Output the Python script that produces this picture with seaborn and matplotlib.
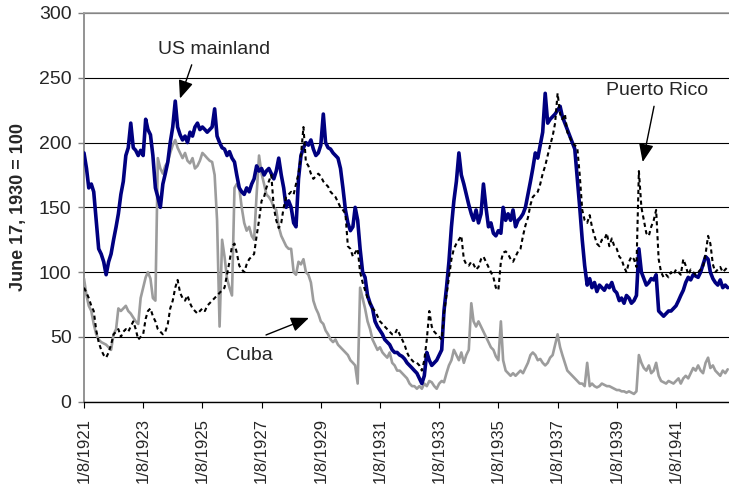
import matplotlib
matplotlib.use("Agg")
import matplotlib.pyplot as plt
import matplotlib.dates as mdates
from matplotlib.patches import ArrowStyle
import seaborn as sns
import pandas as pd

# ---------------- data (monthly readings from 1/8/1921) ----------------
start_date = "1921-01-08"
tick_labels = ["1/8/1921", "1/8/1923", "1/8/1925", "1/8/1927", "1/8/1929", "1/8/1931",
               "1/8/1933", "1/8/1935", "1/8/1937", "1/8/1939", "1/8/1941"]

us_mainland = [
    192, 180, 165, 168, 162, 140, 118, 114, 108, 98, 108, 114, 125, 135, 145, 160, 170, 190, 196, 215,
    196, 194, 190, 194, 190, 218, 210, 206, 190, 165, 158, 150, 168, 176, 185, 200, 212, 232, 212, 206,
    202, 205, 200, 208,
    205, 212, 215, 210, 212, 210, 208, 210, 212, 226, 205, 200, 196, 195, 190, 193, 188, 185, 175, 165,
    162, 160, 165, 162, 168, 172, 182, 178, 180, 175, 178, 180, 176, 172, 178, 188, 175, 165, 150, 155,
    150, 138, 135, 172, 190, 196, 200, 198, 202, 195, 190, 192, 198, 222, 200, 196, 195, 192, 190, 188,
    180, 165, 148, 138, 132, 135, 150, 140, 118, 100, 96, 82, 76, 72, 62, 58, 55, 52, 48, 46, 44, 40, 38,
    38, 36, 35, 33, 30, 28, 26, 24, 22, 18, 14, 20, 38, 32, 28, 30, 32, 36, 40, 70,
    88, 108, 135, 155, 170, 192, 175, 168, 160, 152, 145, 140, 148, 138, 145, 168, 150, 135, 138, 130,
    128, 132, 130, 150,
    140, 145, 140, 148, 135, 140, 142, 145, 150, 160, 170, 180, 192, 188, 198, 208, 238, 215, 218, 220,
    222, 225, 228, 220, 215, 210, 205, 200, 195, 172, 150, 125, 105, 90, 95, 88, 92, 85, 90, 88, 86,
    90, 88, 92, 86, 84, 78, 80, 76, 82, 80, 76, 78, 82, 118, 100, 95, 90, 92, 95, 94,
    98, 70, 68, 66, 68, 70, 70, 72, 74, 78, 82, 86, 92, 96, 94, 98, 97, 96, 100, 106,
    112, 110, 100, 95, 92, 90, 94, 88, 90, 88,
]

cuba = [
    95, 82, 74, 70, 60, 52, 48, 46, 45, 44, 42, 40, 52, 56, 72, 70, 72, 74, 70, 68,
    65, 62, 60, 80, 88, 96, 100, 95, 80, 78, 188, 180, 176, 182, 185, 192, 198, 202, 196, 192,
    188, 192, 186, 184,
    188, 180, 182, 186, 192, 190, 188, 186, 185, 175, 140, 58, 125, 112, 95, 88, 82, 165, 168, 165,
    150, 138, 132, 135, 128, 125, 160, 190, 176, 168, 160, 158, 155, 150, 148, 135, 128, 124, 120, 118,
    118, 100, 98, 108, 106, 110, 100, 98, 92, 78, 72, 68, 62, 60, 55, 52, 48, 46, 48, 44,
    42, 40, 38, 36, 32, 30, 28, 14, 88, 80, 72, 62, 56, 48, 44, 40, 42, 38, 36, 34, 38, 30, 28,
    24, 24, 22, 20, 18, 14, 12, 12, 10, 12, 10, 14, 12, 16, 15, 12, 10, 14, 16, 15,
    22, 28, 32, 40, 36, 32, 38, 30, 36, 40, 76, 62, 58, 62, 58, 54, 50, 46, 42, 40,
    35, 32, 62, 32,
    24, 22, 20, 22, 20, 22, 24, 22, 26, 30, 36, 38, 36, 32, 33, 30, 28, 30, 34, 36,
    44, 52, 42, 36, 30, 24, 22, 20, 18, 16, 14, 14, 12, 30, 12, 14, 12, 11, 12, 14, 13,
    12, 12, 11, 10, 9, 9, 8, 8, 7, 8, 7, 6, 8, 36, 30, 26, 24, 28, 22, 24,
    30, 20, 16, 15, 14, 16, 15, 14, 16, 18, 14, 18, 20, 18, 22, 26, 24, 28, 24, 22,
    30, 34, 26, 28, 24, 22, 20, 24, 22, 25,
]

puerto_rico = [
    88, 84, 80, 74, 70, 55, 46, 40, 36, 34, 38, 44, 52, 54, 56, 50, 54, 56, 54, 58,
    62, 56, 48, 50, 52, 64, 70, 72, 66, 62, 56, 54, 52, 54, 60, 72, 78, 88, 94, 84,
    80, 78, 82, 76,
    72, 70, 68, 70, 72, 70, 74, 76, 78, 80, 82, 84, 86, 88, 98, 108, 120, 122, 115, 105,
    102, 100, 106, 110, 112, 114, 128, 140, 155, 158, 165, 170, 175, 150, 140, 134, 138, 150, 158, 160,
    162, 160, 168, 176, 190, 212, 185, 182, 176, 172, 174, 176, 174, 170, 168, 166, 162, 160, 158, 154,
    150, 148, 145, 120, 118, 112, 115, 118, 100, 92, 86, 80, 76, 72, 70, 66, 62, 60, 58, 56, 54, 52, 52,
    56, 52, 48, 44, 38, 34, 32, 30, 30, 28, 24, 32, 48, 70, 58, 54, 52, 50, 48, 68,
    82, 96, 110, 118, 122, 125, 128, 110, 106, 105, 108, 106, 102, 104, 110, 112, 108, 104, 100, 96,
    88, 86, 108, 115,
    116, 114, 110, 108, 112, 116, 118, 128, 136, 142, 152, 158, 160, 162, 168, 176, 182, 190, 198, 205,
    215, 238, 222, 218, 222, 208, 204, 200, 198, 196, 175, 148, 140, 138, 144, 135, 128, 122, 120, 125,
    125, 130, 120,
    126, 120, 118, 112, 110, 104, 100, 108, 112, 110, 104, 178, 150, 140, 130, 128, 135, 140, 148, 110,
    100, 96, 98, 96, 100, 98, 102, 100, 98, 110, 105, 98, 102, 100, 98, 100, 102, 104, 114, 128,
    122, 106, 100, 102, 104, 100, 102, 104,
]

# ---------------- frame ----------------
dates = pd.date_range(start_date, periods=len(us_mainland), freq=pd.DateOffset(months=1))
df = pd.DataFrame({"date": dates, "US mainland": us_mainland,
                   "Cuba": cuba, "Puerto Rico": puerto_rico})

sns.set_style("white")
plt.rcParams["font.family"] = ["Liberation Sans", "DejaVu Sans"]

W, H = 729, 490
fig = plt.figure(figsize=(W / 100, H / 100), dpi=100)
left_px, right_px, top_px, bottom_px = 84, 729, 13, 401.7
ax = fig.add_axes([left_px / W, 1 - bottom_px / H, (right_px - left_px) / W, (bottom_px - top_px) / H])

sns.lineplot(data=df, x="date", y="Cuba", color="#9c9c9c", lw=1.9, ax=ax, zorder=3)
sns.lineplot(data=df, x="date", y="US mainland", color="#000080", lw=2.6, ax=ax, zorder=4)
sns.lineplot(data=df, x="date", y="Puerto Rico", color="black", lw=1.5, ax=ax, zorder=5,
             linestyle=(0, (2, 1.6)))

t0 = pd.Timestamp(start_date)
ax.set_xlim(mdates.date2num(t0.to_pydatetime()),
            mdates.date2num((t0 + pd.Timedelta(days=7959)).to_pydatetime()))
ax.set_ylim(0, 300)
ax.set_yticks(range(0, 301, 50))
tick_dates = pd.to_datetime(tick_labels, format="%m/%d/%Y")
ax.set_xticks(mdates.date2num(tick_dates.to_pydatetime()))
ax.set_xticklabels(tick_labels, rotation=90)

ax.grid(axis="y", color="black", lw=0.8)
ax.grid(axis="x", visible=False)
ax.set_axisbelow(True)

ax.spines["right"].set_visible(False)
ax.spines["top"].set_color("#a0a0a0")
ax.spines["top"].set_linewidth(1.2)
ax.spines["top"].set_zorder(2.6)
ax.spines["left"].set_color("#808080")
ax.spines["left"].set_linewidth(1.2)
ax.spines["bottom"].set_color("black")
ax.spines["bottom"].set_linewidth(1.0)

ax.tick_params(axis="x", direction="out", length=4, width=0.8, color="black",
               labelsize=12, pad=8, bottom=True)
ax.tick_params(axis="y", direction="out", length=4, width=1, color="#808080",
               labelsize=14, pad=5, left=True)

ax.set_xlabel("")
ax.set_ylabel("June 17, 1930 = 100", fontsize=13, fontweight="bold")
ax.yaxis.set_label_coords(-0.088, 0.5)


def at(days):
    return mdates.date2num((t0 + pd.Timedelta(days=days)).to_pydatetime())


arrow = ArrowStyle("-|>", head_length=1.1, head_width=0.45)
labels = [
    ("US mainland", (1610, 272), (1329, 260), (1184, 234)),
    ("Puerto Rico", (7077, 240), (7034, 228), (6894, 185)),
    ("Cuba", (2036, 36), (2246, 51.5), (2776, 64.7)),
]
for txt, (tx, ty), (ax0, ay0), (ax1, ay1) in labels:
    ax.text(at(tx), ty, txt, ha="center", va="center", fontsize=14, zorder=6)
    ax.annotate("", xy=(at(ax1), ay1), xytext=(at(ax0), ay0),
                arrowprops=dict(arrowstyle=arrow, color="black", lw=1,
                                mutation_scale=10, shrinkA=0, shrinkB=0), zorder=6)

fig.savefig("out.png", dpi=100)
